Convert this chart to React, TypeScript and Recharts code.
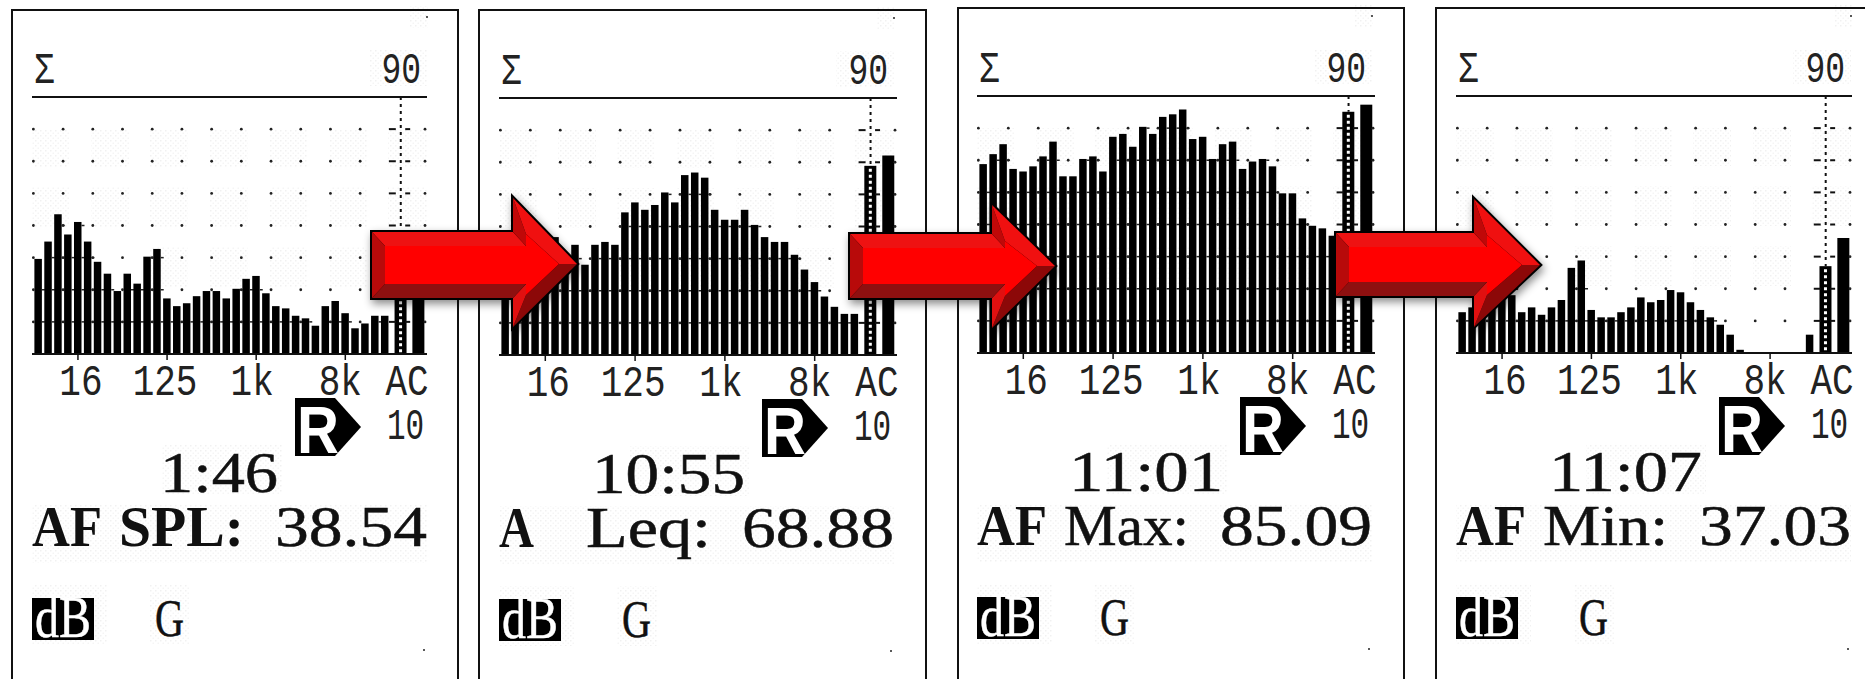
import React from 'react';
import { ComposedChart, Bar, XAxis, YAxis, ReferenceDot, ReferenceLine } from 'recharts';

// third-octave band levels in dB (bars hidden by arrows are estimates)
const splLevels = [39.6, 45, 53.5, 47.2, 51.1, 45, 38.7, 35, 29.6, 35, 31.9, 40.3, 42.7, 27.3, 24.9, 25.8, 28, 29.6, 29.6, 27.3, 30.3, 33.4, 34.3, 28.9, 24.9, 24.2, 21.9, 21.1, 18.8, 24.9, 26.5, 22.7, 18, 19.5, 21.9, 21.9];
const leqLevels = [44, 46, 48, 48, 46, 46.7, 41, 44.3, 38.1, 44.3, 45.2, 44.3, 54.4, 57.5, 55.2, 56.7, 60.6, 57.5, 66, 66.8, 65.2, 55.2, 52.1, 52.1, 55.2, 50.5, 46.7, 45.2, 45.2, 41.2, 36.6, 32.7, 28.2, 25, 22.8, 22.8];
const maxLevels = [68.8, 71.9, 75, 67.3, 66.5, 68.1, 71.2, 75.8, 65, 65, 70.4, 71.2, 66.5, 77.3, 78.2, 74.2, 80.4, 78.2, 83.5, 84.3, 85.8, 76.6, 77.3, 70.4, 75, 75.8, 67.3, 69.6, 70.4, 68.1, 59.7, 59.7, 51.9, 49.6, 48.8, 46.5];
const minLevels = [22.7, 24.2, 24, 25, 27, 28, 22.7, 24.2, 21.9, 24.2, 26.5, 36.5, 38.8, 23.4, 21.1, 21.1, 22.7, 24.2, 27.3, 25.8, 26.5, 29.6, 28.9, 25.8, 23.4, 21.1, 18.8, 15.7, 11, 10, 10, 10, 10, 10, 10, 15.7];

const aLevels = [38.54, 68.88, 85.09, 37.03];
const cLevels = [42, 72.1, 87.3, 45.8];

const tickSlots = [4, 13, 22, 31, 37.24];
const tickNames = ['16', '125', '1k', '8k', 'AC'];
const tickNudge = [3, -2, -4, -5, 0];
const gridRows = [20, 30, 40, 50, 60, 70, 80];
const gridCols = [-0.5, 2.5, 5.5, 8.5, 11.5, 14.5, 17.5, 20.5, 23.5, 26.5, 29.5, 32.5, 39.05];

const times = ['1:46', '10:55', '11:01', '11:07'];
const weightings = ['AF', 'A', 'AF', 'AF'];
const metrics = ['SPL:', 'Leq:', 'Max:', 'Min:'];
const readings = ['38.54', '68.88', '85.09', '37.03'];

const A_SLOT = 36.6;
const C_SLOT = 38.4;

const panels = [
  { frameX: 11, frameW: 448, frameY: 9, plotX: 32, plotW: 395, base: 354, timeW: 118, levels: splLevels, metricBold: true },
  { frameX: 478, frameW: 449, frameY: 9, plotX: 499, plotW: 398, base: 355, timeW: 153, levels: leqLevels, metricBold: false },
  { frameX: 957, frameW: 448, frameY: 7, plotX: 977, plotW: 398, base: 353, timeW: 154, levels: maxLevels, metricBold: false },
  { frameX: 1435, frameW: 440, frameY: 7, plotX: 1456, plotW: 396, base: 353, timeW: 153, levels: minLevels, metricBold: false },
];

const arrows = [
  { left: 372, top: 232, bottom: 298, neck: 513, headTop: 198, headBottom: 327, tip: 577, mid: 264 },
  { left: 850, top: 234, bottom: 298, neck: 992, headTop: 205, headBottom: 328, tip: 1055, mid: 266 },
  { left: 1336, top: 233, bottom: 296, neck: 1474, headTop: 199, headBottom: 327, tip: 1540, mid: 265 },
];

// speckle patches the photo leaves around the grid and the readouts: [x, y, w, h] from the plot's left edge
const speckleBlocks = [
  [0, 129, 38, 38], [59, 129, 38, 38], [118, 129, 38, 38], [178, 129, 38, 38], [237, 129, 38, 38], [297, 129, 38, 38], [356, 129, 39, 38],
  [0, 187, 38, 40], [59, 187, 38, 40], [118, 187, 38, 40], [178, 187, 38, 40], [237, 187, 38, 40], [297, 187, 38, 40], [356, 187, 39, 40],
  [118, 247, 38, 40], [178, 247, 38, 40], [237, 247, 38, 40], [297, 247, 38, 40],
  [337, 50, 58, 36], [130, 445, 120, 50], [0, 505, 395, 58], [0, 585, 75, 60], [118, 585, 40, 60], [378, 6, 18, 22],
];

const LCD_FONT = '"Liberation Mono", "DejaVu Sans Mono", monospace';
const SERIF_FONT = '"Liberation Serif", "DejaVu Serif", serif';

// tall narrow LCD lettering: a mono font stretched vertically
function LcdText({ x, y, children, anchor = 'middle', size = 36, stretch = 1.25 }: any) {
  return (
    <text
      transform={`translate(${x} ${y}) scale(1 ${stretch})`}
      textAnchor={anchor}
      fontFamily={LCD_FONT}
      fontSize={size}
      fill="#222"
    >
      {children}
    </text>
  );
}

function FitText({ x, y, w, size = 56, bold = false, fill = '#111', family = SERIF_FONT, children }: any) {
  return (
    <text
      x={x}
      y={y}
      textLength={w}
      lengthAdjust="spacingAndGlyphs"
      fontFamily={family}
      fontSize={size}
      fontWeight={bold ? 700 : 400}
      fill={fill}
      stroke={bold ? 'none' : fill}
      strokeWidth={bold ? 0 : 0.5}
    >
      {children}
    </text>
  );
}

function AxisTick({ x, y, payload }: any) {
  const i = tickSlots.indexOf(payload.value);
  return (
    <g>
      {tickNames[i] !== 'AC' && <line x1={x} x2={x} y1={y} y2={y + 6} stroke="#111" strokeWidth={1.5} />}
      <LcdText x={x + tickNudge[i]} y={y + 41}>{tickNames[i]}</LcdText>
    </g>
  );
}

// one bar plus the short cross ties of the meter grid that show in the gap beside it
function MeterBar({ x, y, width, height, payload }: any) {
  if (!height || height <= 0) return <g />;
  const dbToPx = height / (payload.level - 10);
  const bottom = y + height;
  if (payload.kind === 'A' || payload.kind === 'C') {
    const w = 12;
    const left = x + width / 2 - w / 2;
    return (
      <g>
        <rect x={left} y={y} width={w} height={height} fill="#000" />
        {payload.kind === 'A' && (
          <line
            x1={left + w / 2}
            x2={left + w / 2}
            y1={y + 3}
            y2={bottom}
            stroke="#fff"
            strokeWidth={3}
            strokeDasharray="3 3"
          />
        )}
      </g>
    );
  }
  const ties = gridRows.filter((r) => r < payload.level);
  return (
    <g>
      <rect x={x} y={y} width={width} height={height} fill="#000" />
      {payload.slot < 35 &&
        ties.map((r) => (
          <rect key={r} x={x + width} y={bottom - (r - 10) * dbToPx - 0.75} width={3} height={1.5} fill="#222" />
        ))}
    </g>
  );
}

function SpectrumChart({ panel, aLevel, cLevel }: any) {
  const table = [
    ...panel.levels.map((level: number, i: number) => ({ slot: i, level, kind: 'band' })),
    { slot: A_SLOT, level: aLevel, kind: 'A' },
    { slot: C_SLOT, level: cLevel, kind: 'C' },
  ];
  return (
    <div style={{ position: 'absolute', left: panel.plotX, top: panel.base - 277 }}>
      <ComposedChart
        width={panel.plotW + 12}
        height={347}
        data={table}
        margin={{ top: 20, right: 12, bottom: 0, left: 0 }}
      >
        <XAxis
          dataKey="slot"
          type="number"
          domain={[-0.64, 39.25]}
          ticks={tickSlots}
          interval={0}
          height={70}
          tickLine={false}
          tickSize={0}
          tickMargin={0}
          axisLine={{ stroke: '#111', strokeWidth: 2 }}
          tick={AxisTick}
        />
        <YAxis hide type="number" domain={[10, 90]} />
        {gridRows.map((row) =>
          gridCols.map((col) => (
            <ReferenceDot key={`${row}-${col}`} x={col} y={row} r={1.4} fill="#222" stroke="none" />
          ))
        )}
        {gridRows.map((row) => (
          <ReferenceLine
            key={`l${row}`}
            segment={[{ x: 35.4, y: row }, { x: 36.1, y: row }]}
            stroke="#111"
            strokeWidth={2}
          />
        ))}
        {gridRows.map((row) => (
          <ReferenceLine
            key={`r${row}`}
            segment={[{ x: 37.05, y: row }, { x: 37.55, y: row }]}
            stroke="#111"
            strokeWidth={2}
          />
        ))}
        <ReferenceLine y={90} stroke="#111" strokeWidth={2} />
        <ReferenceLine
          segment={[{ x: A_SLOT, y: 90 }, { x: A_SLOT, y: aLevel }]}
          stroke="#111"
          strokeWidth={2}
          strokeDasharray="3 4"
        />
        <Bar dataKey="level" barSize={7.5} shape={MeterBar} isAnimationActive={false} />
      </ComposedChart>
    </div>
  );
}

function PanelText({ panel, index }: any) {
  const px = panel.plotX;
  const b = panel.base - 354;
  const timeRight = 246;
  return (
    <g>
      <LcdText x={px + 2} y={83 + b} anchor="start" size={34} stretch={1.33}>Σ</LcdText>
      <LcdText x={px + 389} y={83 + b} anchor="end" size={33} stretch={1.36}>90</LcdText>
      <circle cx={px + 395} cy={17 + b} r={1} fill="#222" />
      <circle cx={px + 392} cy={650 + b} r={1} fill="#222" />
      <polygon
        points={`${px + 263},${398 + b} ${px + 303},${398 + b} ${px + 329},${427 + b} ${px + 303},${456 + b} ${px + 263},${456 + b}`}
        fill="#000"
      />
      <FitText x={px + 265} y={453 + b} w={42} size={66} bold fill="#fff" family='"Liberation Sans", Arial, sans-serif'>R</FitText>
      <LcdText x={px + 355} y={439 + b} anchor="start" size={31} stretch={1.42}>10</LcdText>
      <FitText x={px + timeRight - panel.timeW} y={492 + b} w={panel.timeW}>{times[index]}</FitText>
      <FitText x={px} y={546 + b} w={weightings[index] === 'A' ? 35 : 70} bold>{weightings[index]}</FitText>
      <FitText x={px + 87} y={546 + b} w={125} bold={panel.metricBold}>{metrics[index]}</FitText>
      <FitText x={px + 243} y={546 + b} w={152}>{readings[index]}</FitText>
      <rect x={px} y={598 + b} width={62} height={42} fill="#000" />
      <FitText x={px + 3} y={637 + b} w={56} size={60} fill="#fff">dB</FitText>
      <FitText x={px + 123} y={636 + b} w={29} size={52}>G</FitText>
    </g>
  );
}

function Arrow({ a }: any) {
  const outer = [
    [a.left, a.top],
    [a.neck, a.top],
    [a.neck, a.headTop],
    [a.tip, a.mid],
    [a.neck, a.headBottom],
    [a.neck, a.bottom],
    [a.left, a.bottom],
  ];
  const inner = [
    [a.left + 13, a.top + 14],
    [a.neck + 13, a.top + 14],
    [a.neck + 13, a.headTop + 36],
    [a.tip - 18, a.mid],
    [a.neck + 13, a.headBottom - 32],
    [a.neck + 13, a.bottom - 14],
    [a.left + 13, a.bottom - 14],
  ];
  const facetFills = ['#ee1212', '#c00808', '#f01010', '#8c0808', '#e01010', '#8e1010', '#b80a0a'];
  const pts = (list: number[][]) => list.map((p) => p.join(',')).join(' ');
  return (
    <g>
      <polygon points={pts(outer)} fill="#000" stroke="#000" strokeWidth={4} strokeLinejoin="miter" filter="url(#arrowShadow)" />
      {outer.map((p, i) => {
        const next = (i + 1) % outer.length;
        return (
          <polygon key={i} points={pts([p, outer[next], inner[next], inner[i]])} fill={facetFills[i]} />
        );
      })}
      <polygon points={pts(inner)} fill="#ff0000" />
    </g>
  );
}

export default function App() {
  return (
    <div
      style={{
        position: 'absolute',
        left: 0,
        top: 0,
        width: 1865,
        height: 679,
        overflow: 'hidden',
        background: '#fff',
      }}
    >
      <svg width={1865} height={679} style={{ position: 'absolute', left: 0, top: 0 }}>
        <defs>
          <pattern id="speckle" width="5" height="5" patternUnits="userSpaceOnUse">
            <rect x="0" y="0" width="1.5" height="1.5" fill="#f1f1f1" />
            <rect x="2.5" y="2.5" width="1.5" height="1.5" fill="#f5f5f5" />
          </pattern>
        </defs>
        {panels.map((panel, i) =>
          speckleBlocks.map((s, j) => (
            <rect
              key={`${i}-${j}`}
              x={panel.plotX + s[0]}
              y={s[1] + panel.base - 354}
              width={s[2]}
              height={s[3]}
              fill="url(#speckle)"
            />
          ))
        )}
      </svg>
      {panels.map((panel, i) => (
        <div
          key={i}
          style={{
            position: 'absolute',
            left: panel.frameX,
            top: panel.frameY,
            width: panel.frameW,
            height: 720,
            boxSizing: 'border-box',
            border: '2px solid #111',
          }}
        />
      ))}
      {panels.map((panel, i) => (
        <SpectrumChart key={i} panel={panel} aLevel={aLevels[i]} cLevel={cLevels[i]} />
      ))}
      <svg width={1865} height={679} style={{ position: 'absolute', left: 0, top: 0 }}>
        <defs>
          <filter id="arrowShadow" x="-10%" y="-10%" width="125%" height="130%">
            <feDropShadow dx="2" dy="4" stdDeviation="4" floodColor="#000" floodOpacity="0.45" />
          </filter>
        </defs>
        {panels.map((panel, i) => (
          <PanelText key={i} panel={panel} index={i} />
        ))}
        {arrows.map((a, i) => (
          <Arrow key={i} a={a} />
        ))}
      </svg>
    </div>
  );
}
